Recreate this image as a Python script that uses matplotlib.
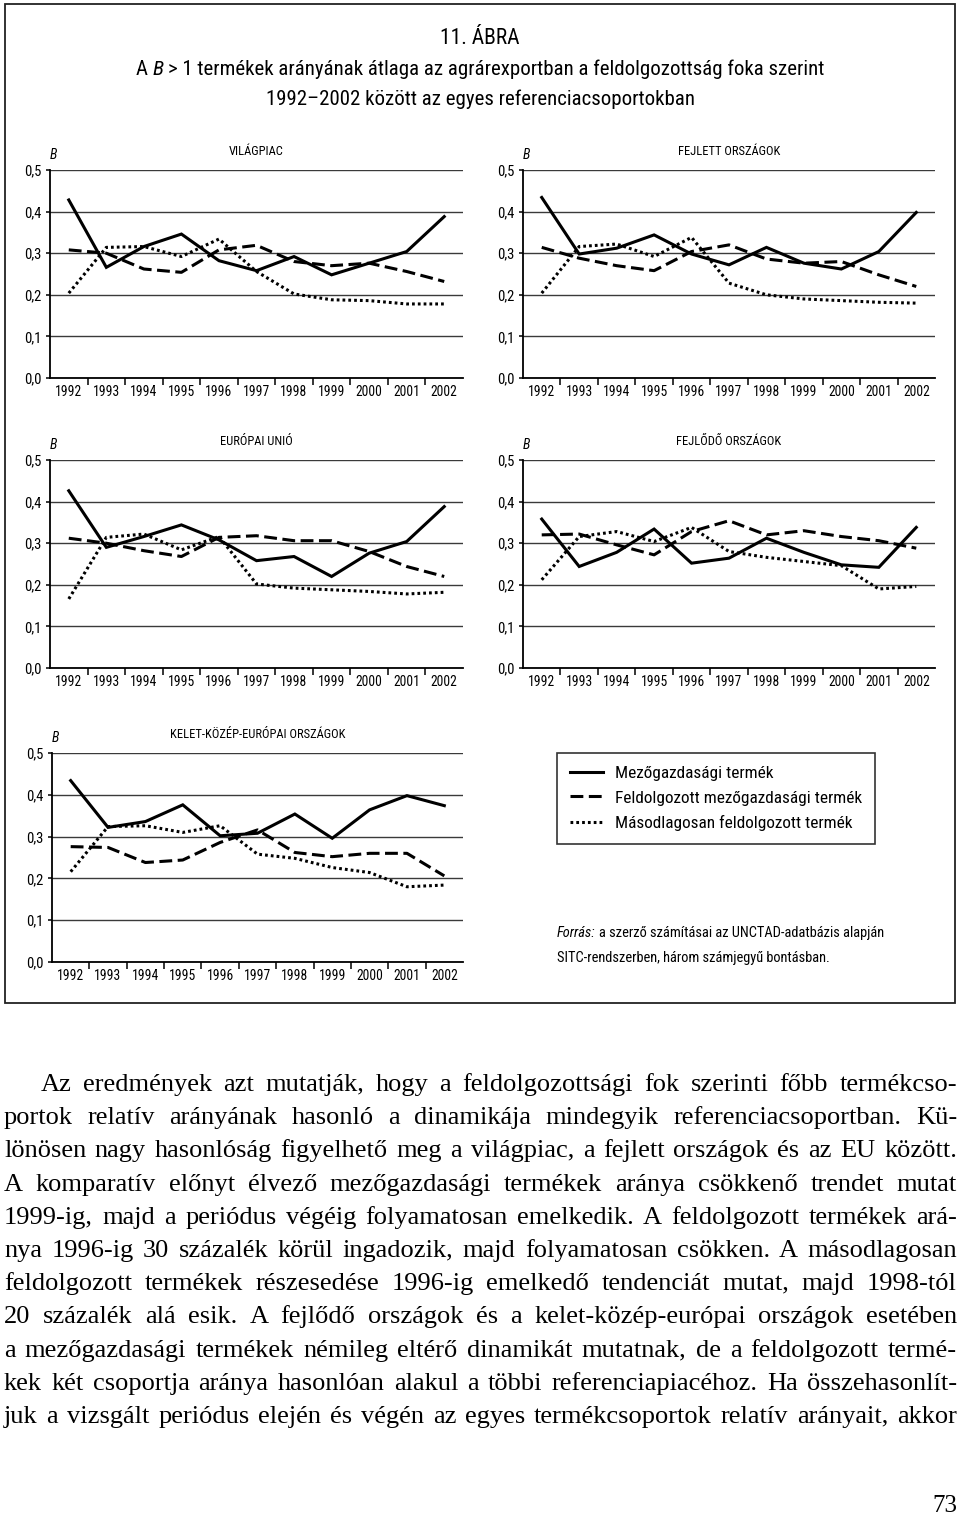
import matplotlib
matplotlib.use('Agg')
import matplotlib.pyplot as plt
from matplotlib.patches import Rectangle

# --- data --------------------------------------------------------------
years = ['1992', '1993', '1994', '1995', '1996', '1997',
         '1998', '1999', '2000', '2001', '2002']
y_ticks = [0.0, 0.1, 0.2, 0.3, 0.4, 0.5]
y_labels = ['0,0', '0,1', '0,2', '0,3', '0,4', '0,5']

series_names = ['Mezőgazdasági termék',
                'Feldolgozott mezőgazdasági termék',
                'Másodlagosan feldolgozott termék']

# VILÁGPIAC
vilag_mezo = [0.428, 0.266, 0.316, 0.346, 0.282, 0.258, 0.292, 0.248, 0.276, 0.304, 0.388]
vilag_feld = [0.308, 0.300, 0.262, 0.254, 0.308, 0.319, 0.280, 0.270, 0.276, 0.256, 0.232]
vilag_masod = [0.204, 0.314, 0.316, 0.292, 0.334, 0.256, 0.202, 0.188, 0.186, 0.178, 0.178]

# FEJLETT ORSZÁGOK
fejlett_mezo = [0.434, 0.298, 0.312, 0.344, 0.298, 0.272, 0.314, 0.276, 0.262, 0.304, 0.398]
fejlett_feld = [0.314, 0.288, 0.270, 0.258, 0.304, 0.320, 0.286, 0.276, 0.280, 0.248, 0.220]
fejlett_masod = [0.204, 0.316, 0.322, 0.292, 0.338, 0.228, 0.200, 0.190, 0.186, 0.182, 0.180]

# EURÓPAI UNIÓ
eu_mezo = [0.426, 0.290, 0.316, 0.344, 0.308, 0.258, 0.268, 0.220, 0.276, 0.304, 0.388]
eu_feld = [0.312, 0.300, 0.282, 0.268, 0.314, 0.318, 0.306, 0.306, 0.280, 0.244, 0.220]
eu_masod = [0.166, 0.314, 0.322, 0.284, 0.316, 0.202, 0.192, 0.188, 0.184, 0.178, 0.182]

# FEJLŐDŐ ORSZÁGOK
fejlodo_mezo = [0.358, 0.244, 0.278, 0.334, 0.252, 0.264, 0.312, 0.278, 0.248, 0.242, 0.338]
fejlodo_feld = [0.320, 0.322, 0.296, 0.272, 0.328, 0.354, 0.320, 0.330, 0.316, 0.306, 0.288]
fejlodo_masod = [0.212, 0.316, 0.328, 0.304, 0.338, 0.280, 0.266, 0.256, 0.246, 0.190, 0.196]

# KELET-KÖZÉP-EURÓPAI ORSZÁGOK
kke_mezo = [0.434, 0.322, 0.336, 0.376, 0.302, 0.308, 0.354, 0.296, 0.364, 0.398, 0.374]
kke_feld = [0.276, 0.274, 0.238, 0.244, 0.286, 0.316, 0.262, 0.252, 0.260, 0.260, 0.206]
kke_masod = [0.216, 0.324, 0.326, 0.310, 0.326, 0.258, 0.248, 0.226, 0.214, 0.180, 0.184]

body_lines = [
    'Az eredmények azt mutatják, hogy a feldolgozottsági fok szerinti főbb termékcso-',
    'portok relatív arányának hasonló a dinamikája mindegyik referenciacsoportban. Kü-',
    'lönösen nagy hasonlóság figyelhető meg a világpiac, a fejlett országok és az EU között.',
    'A komparatív előnyt élvező mezőgazdasági termékek aránya csökkenő trendet mutat',
    '1999-ig, majd a periódus végéig folyamatosan emelkedik. A feldolgozott termékek ará-',
    'nya 1996-ig 30 százalék körül ingadozik, majd folyamatosan csökken. A másodlagosan',
    'feldolgozott termékek részesedése 1996-ig emelkedő tendenciát mutat, majd 1998-tól',
    '20 százalék alá esik. A fejlődő országok és a kelet-közép-európai országok esetében',
    'a mezőgazdasági termékek némileg eltérő dinamikát mutatnak, de a feldolgozott termé-',
    'kek két csoportja aránya hasonlóan alakul a többi referenciapiacéhoz. Ha összehasonlít-',
    'juk a vizsgált periódus elején és végén az egyes termékcsoportok relatív arányait, akkor',
]

# --- figure ------------------------------------------------------------
NARROW = ['Liberation Sans Narrow', 'Roboto Condensed', 'Liberation Sans', 'DejaVu Sans']
SERIF = ['Liberation Serif', 'DejaVu Serif']
plt.rcParams['font.family'] = NARROW

W, H = 960, 1518
fig = plt.figure(figsize=(W / 100, H / 100), dpi=100)
renderer = fig.canvas.get_renderer()


def fx(px):
    return px / W


def fy(py):
    return 1 - py / H


def box(l, t, r, b):
    return [l / W, 1 - b / H, (r - l) / W, (b - t) / H]


# outer frame of the figure
fig.add_artist(Rectangle((fx(5), fy(1003)), fx(950), 999 / H, transform=fig.transFigure,
                         fill=False, edgecolor='#222222', lw=1.3))


def runs(parts, x, y, size, family=NARROW, ha='center'):
    """Place (text, style) pieces one after another on one baseline."""
    ts = [fig.text(0, fy(y), s, style=st, va='baseline', fontsize=size, family=family)
          for s, st in parts]
    ws = [t.get_window_extent(renderer).width for t in ts]
    probe1 = fig.text(0, 0, 'x x', fontsize=size, family=family)
    probe2 = fig.text(0, 0, 'xx', fontsize=size, family=family)
    space = probe1.get_window_extent(renderer).width - probe2.get_window_extent(renderer).width
    probe1.remove()
    probe2.remove()
    total = sum(ws) + space * (len(ws) - 1)
    pos = x - total / 2 if ha == 'center' else x
    for t, w in zip(ts, ws):
        t.set_x(fx(pos))
        pos += w + space


# title block
fig.text(0.5, fy(44), '11. ÁBRA', ha='center', va='baseline', fontsize=15.5)
runs([('A', 'normal'), ('B', 'italic'), ('> 1 termékek arányának átlaga az agrárexportban '
      'a feldolgozottság foka szerint', 'normal')], 480, 75, 15)
fig.text(0.5, fy(105), '1992–2002 között az egyes referenciacsoportokban',
         ha='center', va='baseline', fontsize=15)


def panel(rect, title, mezo, feld, masod):
    ax = fig.add_axes(box(*rect))
    x = range(len(years))
    l1, = ax.plot(x, mezo, color='black', lw=2.2, solid_joinstyle='miter')
    l2, = ax.plot(x, feld, color='black', lw=2.2, ls=(0, (4.2, 1.8)), dash_capstyle='butt')
    l3, = ax.plot(x, masod, color='black', lw=2.2, ls=(0, (0.9, 1.0)), dash_capstyle='butt')
    ax.set_xlim(-0.5, len(years) - 0.5)
    ax.set_ylim(0, 0.5)
    ax.set_yticks(y_ticks)
    ax.set_yticklabels(y_labels)
    ax.yaxis.grid(True, color='#3a3a3a', lw=1.0)
    ax.set_axisbelow(True)
    ax.set_xticks([i + 0.5 for i in range(len(years) - 1)])
    ax.set_xticklabels([])
    ax.set_xticks(list(x), minor=True)
    ax.set_xticklabels(years, minor=True)
    ax.tick_params(axis='x', which='major', length=5, width=1.1, direction='out')
    ax.tick_params(axis='x', which='minor', length=0, pad=5, labelsize=9.8)
    ax.tick_params(axis='y', length=3, width=1.1, pad=3, labelsize=10.5)
    for s in ('top', 'right'):
        ax.spines[s].set_visible(False)
    for s in ('left', 'bottom'):
        ax.spines[s].set_linewidth(1.3)
    ax.text(0.0, 1.072, 'B', transform=ax.transAxes, style='italic', fontsize=10,
            ha='left', va='center')
    ax.text(0.5, 1.087, title, transform=ax.transAxes, fontsize=9,
            ha='center', va='center')
    return [l1, l2, l3]


handles = panel((50, 170, 463, 378), 'VILÁGPIAC', vilag_mezo, vilag_feld, vilag_masod)
panel((523, 170, 935, 378), 'FEJLETT ORSZÁGOK', fejlett_mezo, fejlett_feld, fejlett_masod)
panel((50, 460, 463, 668), 'EURÓPAI UNIÓ', eu_mezo, eu_feld, eu_masod)
panel((523, 460, 935, 668), 'FEJLŐDŐ ORSZÁGOK', fejlodo_mezo, fejlodo_feld, fejlodo_masod)
panel((52, 753, 463, 962), 'KELET-KÖZÉP-EURÓPAI ORSZÁGOK', kke_mezo, kke_feld, kke_masod)

leg = fig.legend(handles, series_names, loc='upper left',
                 bbox_to_anchor=(fx(557), fy(753)), frameon=True, fancybox=False,
                 edgecolor='black', fontsize=12.4, handlelength=1.9, handletextpad=0.7,
                 borderpad=0.75, labelspacing=0.55, borderaxespad=0)
leg.get_frame().set_linewidth(1.2)

runs([('Forrás:', 'italic'), ('a szerző számításai az UNCTAD-adatbázis alapján', 'normal')],
     557, 937, 10.4, ha='left')
fig.text(fx(557), fy(962), 'SITC-rendszerben, három számjegyű bontásban.',
         va='baseline', fontsize=10.4)

# justified body text under the chart
BODY_SIZE = 19
for i, line in enumerate(body_lines):
    y = 1091 + i * 33.2
    x0 = 41 if i == 0 else 4
    x1 = 957
    words = line.split(' ')
    ts = [fig.text(0, fy(y), w, va='baseline', fontsize=BODY_SIZE, family=SERIF)
          for w in words]
    ws = [t.get_window_extent(renderer).width for t in ts]
    gap = (x1 - x0 - sum(ws)) / (len(words) - 1)
    pos = x0
    for t, w in zip(ts, ws):
        t.set_x(fx(pos))
        pos += w + gap

fig.text(fx(957), fy(1512), '73', ha='right', va='baseline', fontsize=18, family=SERIF)

fig.savefig('out.png', dpi=100)
